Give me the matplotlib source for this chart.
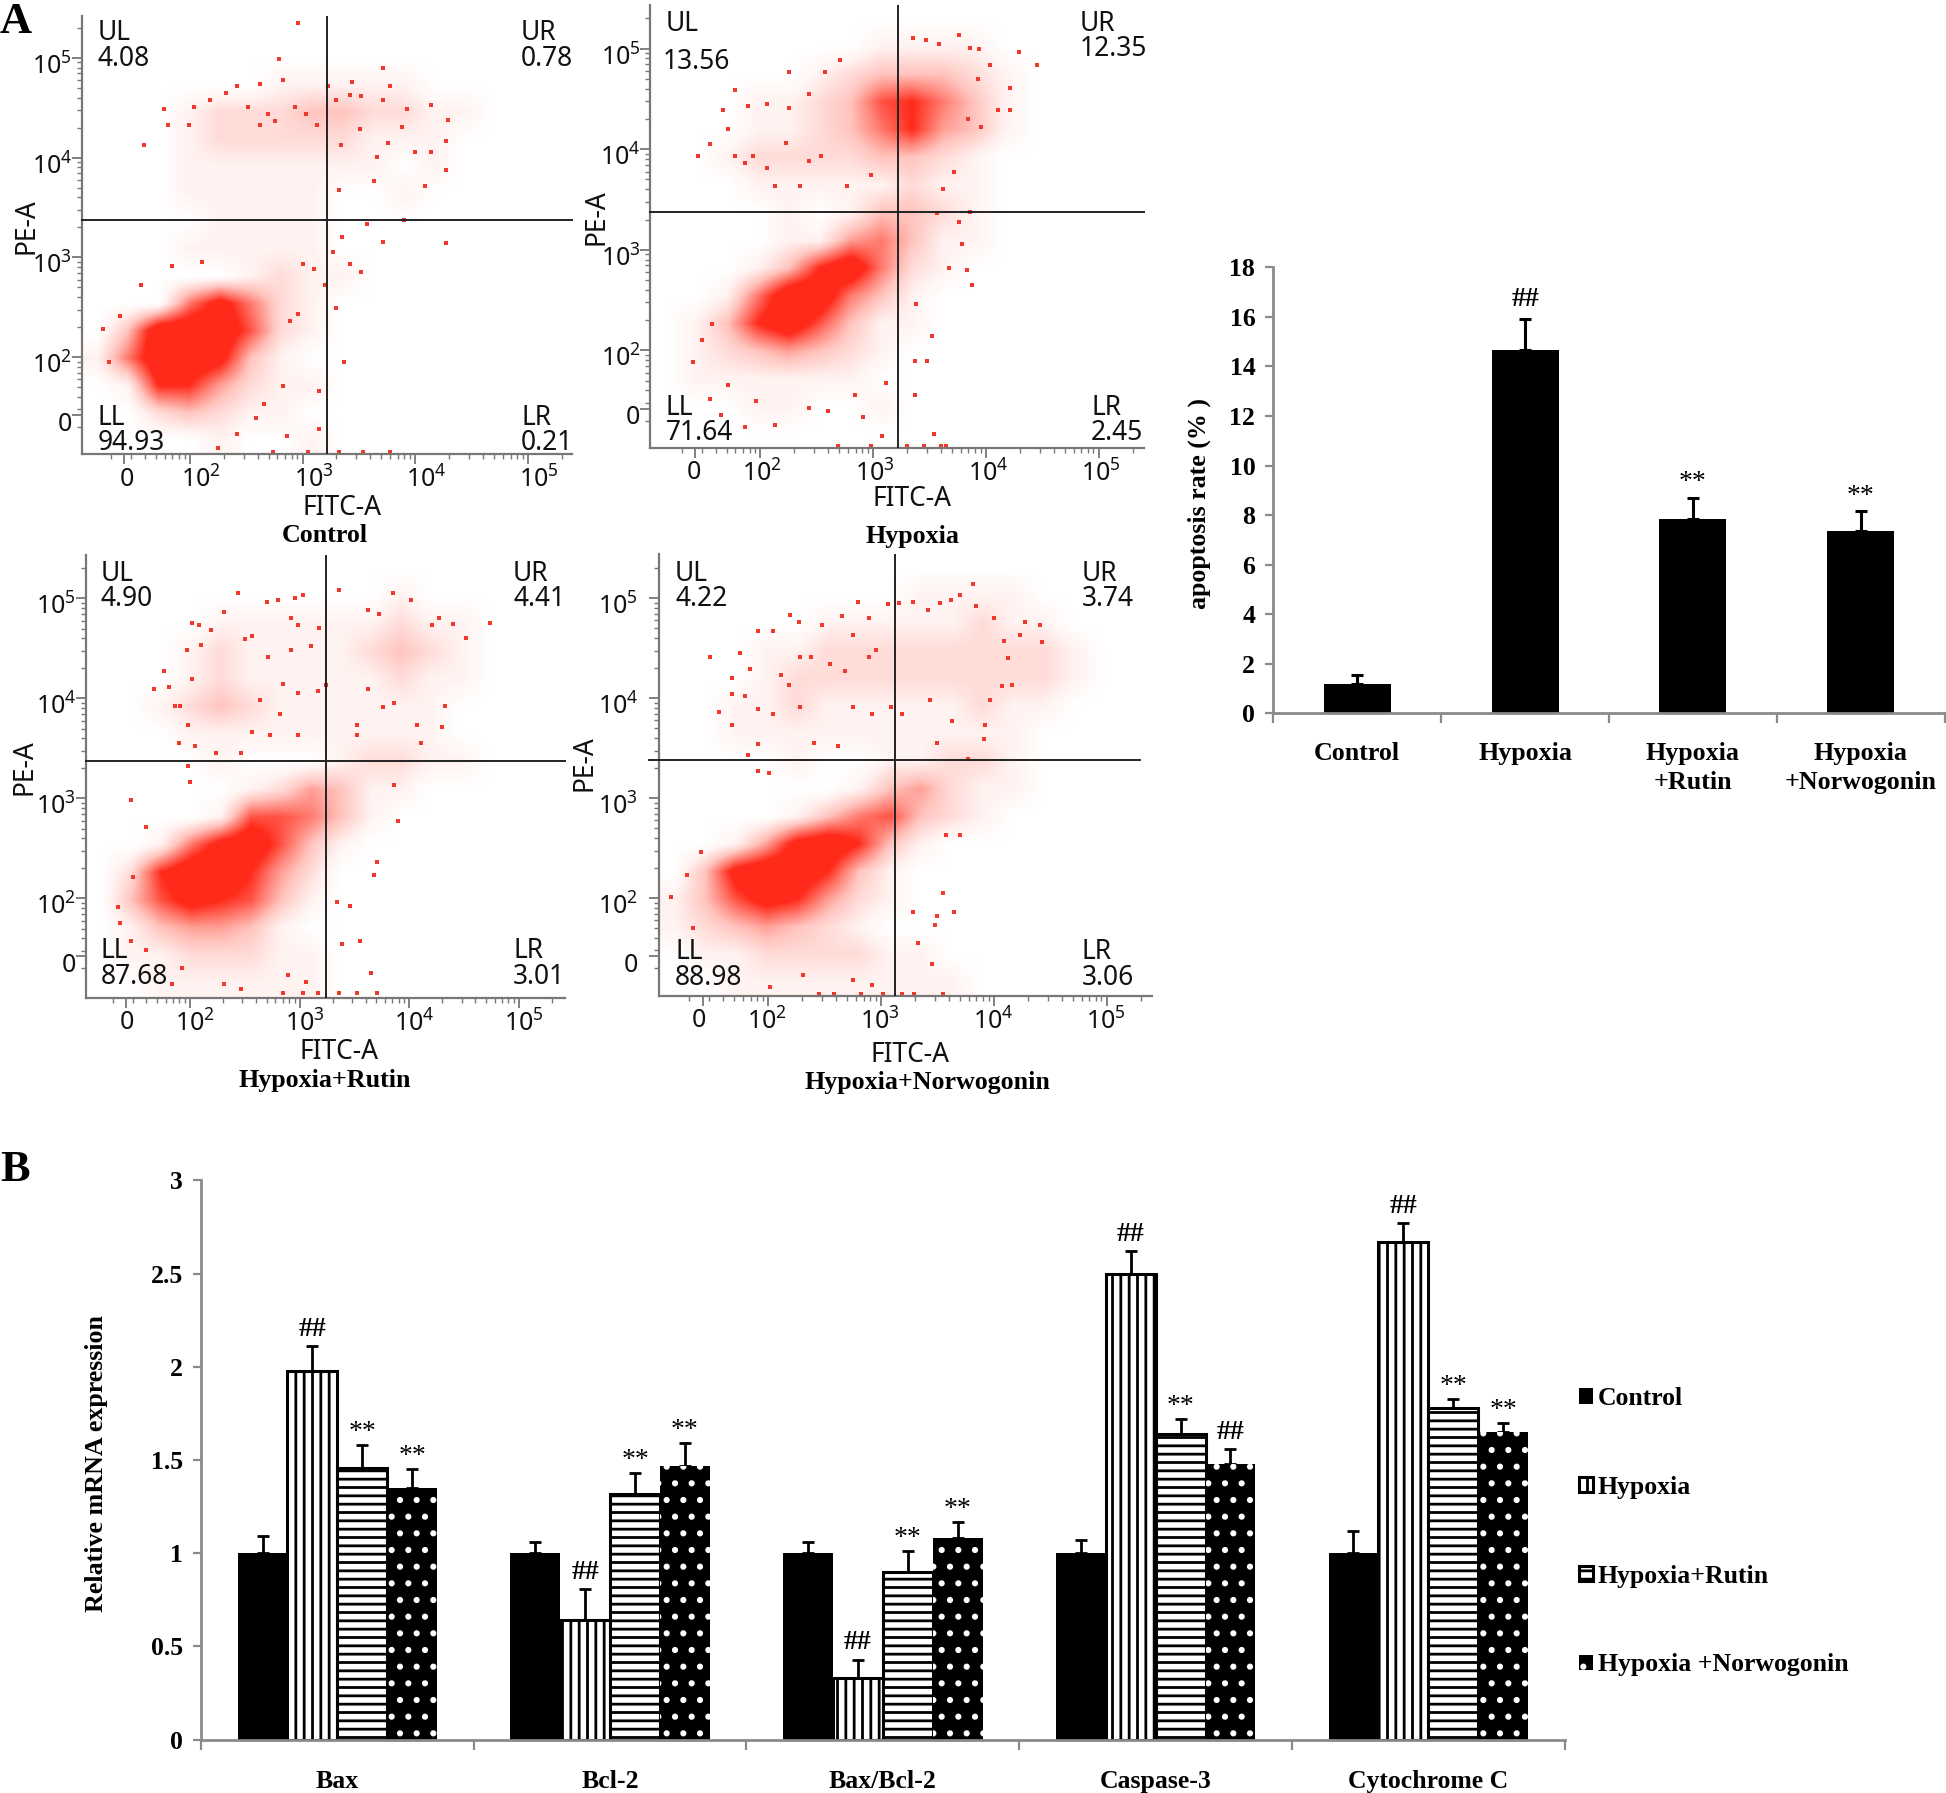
import numpy as np
import matplotlib
matplotlib.use('Agg')
import matplotlib.pyplot as plt
from matplotlib.colors import LinearSegmentedColormap
from matplotlib.patches import Patch
from matplotlib.transforms import ScaledTranslation

W, H = 1946, 1793
plt.rcParams['mathtext.default'] = 'regular'
plt.rcParams['hatch.linewidth'] = 2.0

# flow cytometry: the dense clouds are hand-read as coarse density maps (0-9, top row first),
# the loose events are hand-read one by one, all in decades of FITC-A / PE-A
control_density = [
    "0000000000000000", "0000000000000000", "0000001111100000", "0001222332211000",
    "0001222221110000", "0001111111010000", "0001111100100000", "0000111100000000",
    "0001111100000000", "0000012110000000", "0005852100000000", "0399962100000000",
    "1599831000000000", "0177421100000000", "0023211000000000", "0000100100000000"]
hypoxia_density = [
    "0000000000000000", "0000000111100000", "0000012333210000", "0001123675310000",
    "0001123574310000", "0012222332100000", "0001111121100000", "0000101332100000",
    "0000114531100000", "0001379521000000", "0015995310000000", "0137963110000000",
    "0123432100000000", "0111111000000000", "0001100100000000", "0000000000000000"]
rutin_density = [
    "0000000000000000", "0000000000100000", "0000111111211000", "0001211112321000",
    "0001211111211000", "0012321111110000", "0001111111110000", "0000100012211000",
    "0000012431100000", "0000166531000000", "0015896310000000", "0279974200000000",
    "0368763100000000", "0134431000000000", "0112221100000000", "0011111100000000"]
norwogonin_density = [
    "0000000000000000", "0000000011110000", "0000011111211000", "0001122222222100",
    "0001222222222100", "0011211111211000", "0011111111110000", "0000100112210000",
    "0000001342110000", "0000135632100000", "0014897310000000", "0389973100000000",
    "1368742100000000", "1234321000000000", "0112222110000000", "0011111111000000"]

control_x = [2.96,2.79,3.71,3.44,3.78,2.42,2.62,2.83,3.23,1.77,2.04,1.81,1.99,1.59,2.18,2.32,2.52,2.62,2.69,2.76,
             2.93,3.03,3.13,3.30,3.42,3.52,3.71,3.93,3.88,4.14,4.29,4.00,4.14,4.27,4.27,4.09,3.63,3.32,3.66,3.76,
             3.51,3.34,3.71,4.27,3.57,3.90,3.35,3.27,3.42,3.52,3.30,3.20,3.37,3.15,3.15,2.86,2.74,3.05,3.32,3.54,
             3.78,1.57,1.23,1.38,1.28,3.00,3.10,1.84,2.11,2.89,2.96,2.83,2.59,2.25,2.42,2.66]
control_y = [5.35,4.99,4.90,4.76,4.72,4.72,4.74,4.78,4.72,4.49,4.51,4.33,4.33,4.13,4.58,4.65,4.51,4.33,4.44,4.37,
             4.51,4.44,4.33,4.58,4.63,4.62,4.58,4.49,4.31,4.53,4.38,4.06,4.06,4.17,3.88,3.72,3.77,3.68,4.01,4.15,
             4.29,4.13,3.15,3.14,3.34,3.38,3.20,3.05,2.93,2.85,2.49,2.72,1.95,1.66,1.28,1.21,1.05,1.05,1.05,1.05,
             1.05,2.72,2.28,2.41,1.95,2.93,2.88,2.91,2.95,2.36,2.43,1.71,1.39,1.09,1.23,1.53]

hypoxia_x = [4.45,4.29,3.76,3.35,3.47,3.58,3.86,3.94,4.04,4.21,4.21,4.11,3.93,3.84,3.96,2.25,1.77,1.67,1.89,1.71,
             1.55,1.45,1.77,1.86,1.93,2.06,2.23,2.43,2.54,2.35,2.71,2.57,2.43,2.25,2.06,2.13,2.77,2.98,3.62,3.72,
             3.86,3.76,3.79,3.67,3.83,3.88,3.57,3.38,3.52,3.37,3.48,3.37,3.54,2.69,2.98,3.30,3.45,3.60,3.65,1.40,
             1.48,1.57,1.71,1.55,1.65,1.96,1.86,2.13,2.43,2.60,2.84,3.11,3.08,2.91]
hypoxia_y = [4.84,4.97,5.14,5.11,5.09,5.05,5.01,5.00,4.84,4.61,4.39,4.39,4.70,4.30,4.22,4.77,4.59,4.39,4.43,4.20,
             4.05,3.93,3.93,3.86,3.93,3.81,4.06,3.88,3.93,3.63,4.89,4.77,4.55,4.41,4.45,3.63,3.63,3.74,3.60,3.77,
             3.38,3.28,3.06,2.82,2.80,2.65,3.37,2.46,2.14,1.89,1.89,1.56,1.17,1.05,1.05,1.05,1.05,1.05,1.05,1.88,
             2.10,2.26,1.66,1.52,1.36,1.50,1.24,1.26,1.43,1.40,1.56,1.68,1.15,1.34]

rutin_x = [4.74,4.52,4.40,4.27,4.21,4.02,3.85,3.36,3.03,2.96,2.80,2.70,2.44,2.31,2.02,2.08,2.19,1.97,2.10,1.76,
           2.02,1.67,1.81,1.86,1.91,1.98,1.90,2.05,2.24,2.47,1.98,2.00,1.46,1.60,4.33,4.30,4.11,4.07,3.86,3.90,
           3.71,3.68,3.46,3.34,3.39,3.55,3.65,3.71,3.52,3.36,3.03,2.85,3.17,2.47,2.31,1.84,1.46,1.36,1.34,1.48,
           1.60,1.93,2.89,3.06,3.62,3.72,2.50,2.57,2.92,2.99,3.18,2.71,2.92,3.10,3.24,2.85,2.99,3.17,2.64,2.82,
           2.57,2.73,2.99,3.52,3.76,3.86,3.62,3.52]
rutin_y = [4.75,4.60,4.74,4.80,4.73,4.98,5.05,5.08,5.03,5.00,4.98,4.96,5.05,4.86,4.75,4.73,4.68,4.48,4.53,4.27,
           4.19,4.09,4.11,3.92,3.92,3.73,3.55,3.52,3.45,3.45,3.32,3.16,2.98,2.71,3.92,3.71,3.55,3.73,3.13,2.77,
           2.36,2.23,1.92,1.96,1.54,1.57,1.25,1.05,1.05,1.05,1.05,1.05,1.05,1.09,1.14,1.14,1.57,1.75,1.91,2.21,
           1.48,1.30,1.23,1.16,4.88,4.84,4.59,4.62,4.80,4.73,4.70,4.41,4.48,4.52,4.13,4.14,4.05,4.07,3.98,3.84,
           3.66,3.63,3.63,3.63,3.91,3.95,4.09,3.73]

norwogonin_x = [3.82,3.70,3.62,3.84,3.52,3.42,3.28,3.16,3.06,2.80,4.41,4.28,4.43,4.23,4.09,4.13,4.16,4.07,3.97,3.92,
                3.91,4.00,2.19,2.27,1.91,2.04,1.48,1.75,1.84,1.68,1.68,1.79,1.56,1.68,1.91,2.04,1.91,1.82,1.91,2.01,
                2.41,2.62,2.28,2.38,2.55,2.68,2.89,2.96,2.48,2.65,2.89,2.75,2.28,2.11,2.18,2.75,2.92,3.09,3.19,3.43,
                3.63,3.50,3.77,3.70,3.58,3.65,3.50,3.48,3.28,3.45,3.55,1.14,1.28,1.40,1.33,2.45,2.58,2.82,3.02,3.19,
                3.29,3.55,2.02,2.31,2.75,2.92,3.33]
norwogonin_y = [5.14,5.03,4.98,4.92,4.95,4.88,4.96,4.95,4.94,4.96,4.73,4.76,4.56,4.63,4.57,4.40,4.13,4.12,3.98,3.73,
                3.59,4.80,4.83,4.76,4.67,4.67,4.41,4.45,4.29,4.20,4.04,4.02,3.86,3.73,3.89,3.84,3.54,3.43,3.27,3.25,
                3.55,3.52,4.41,4.41,4.34,4.27,4.41,4.48,4.73,4.82,4.80,4.63,3.91,4.23,4.13,3.91,3.84,3.91,3.84,3.98,
                3.77,3.55,3.39,2.63,2.63,1.86,1.82,1.73,1.86,1.34,2.05,2.01,2.23,2.46,1.70,1.04,1.04,1.04,1.04,1.04,
                1.04,1.04,1.11,1.23,1.18,1.13,1.55]

quadrant_names = ["UL", "UR", "LL", "LR"]
control_pct = ["4.08", "0.78", "94.93", "0.21"]
hypoxia_pct = ["13.56", "12.35", "71.64", "2.45"]
rutin_pct = ["4.90", "4.41", "87.68", "3.01"]
norwogonin_pct = ["4.22", "3.74", "88.98", "3.06"]

flow_ticks = [1.42, 2, 3, 4, 5]
flow_ticklabels = ["0", "$10^2$", "$10^3$", "$10^4$", "$10^5$"]

# apoptosis bars
apo_groups = ["Control", "Hypoxia", "Hypoxia\n+Rutin", "Hypoxia\n+Norwogonin"]
apo_rate = [1.2, 14.65, 7.85, 7.35]
apo_err = [0.35, 1.25, 0.85, 0.8]
apo_marks = ["", "##", "**", "**"]

# mRNA bars
genes = ["Bax", "Bcl-2", "Bax/Bcl-2", "Caspase-3", "Cytochrome C"]
mrna_control = [1, 1, 1, 1, 1]
mrna_hypoxia = [1.98, 0.64, 0.33, 2.50, 2.67]
mrna_rutin = [1.46, 1.32, 0.90, 1.64, 1.78]
mrna_norwogonin = [1.35, 1.47, 1.08, 1.48, 1.65]
err_control = [0.09, 0.06, 0.06, 0.07, 0.12]
err_hypoxia = [0.13, 0.17, 0.10, 0.12, 0.10]
err_rutin = [0.12, 0.11, 0.11, 0.08, 0.05]
err_norwogonin = [0.10, 0.12, 0.09, 0.08, 0.05]
marks_hypoxia = ["##", "##", "##", "##", "##"]
marks_rutin = ["**", "**", "**", "**", "**"]
marks_norwogonin = ["**", "**", "**", "##", "**"]

SERIF = "Liberation Serif"
SANS = "Noto Sans"
GREY = "#8a8a8a"

fig = plt.figure(figsize=(W / 100, H / 100), dpi=100, facecolor="white")
red_map = LinearSegmentedColormap.from_list(
    "flow", [(0, "#ffffff"), (1 / 9, "#fff3f1"), (3 / 9, "#ffc4be"), (5 / 9, "#ff7a6e"), (7 / 9, "#ff2a1a"), (1, "#ff2a1a")])


def px_axes(left, top, right, bottom):
    return fig.add_axes([left / W, 1 - bottom / H, (right - left) / W, (bottom - top) / H])


def px_text(x, y, s, **kw):
    fig.text(x / W, 1 - y / H, s, **kw)


def nudge(label, dx, dy):
    # the cytometer software prints its tick labels off-centre
    label.set_transform(label.get_transform() + ScaledTranslation(dx / 100, dy / 100, fig.dpi_scale_trans))


def flow_panel(box, xlim, ylim, gate, density, xs, ys, pct, name_pos, fitc_pos, pe_pos, title, title_pos,
               label_dx, ylabel_dx, hspan=(0, 1)):
    ax = px_axes(*box)
    grid = np.array([[int(c) for c in row] for row in density]) / 9
    ax.imshow(grid, cmap=red_map, vmin=0, vmax=1, aspect="auto", interpolation="bilinear",
              extent=(xlim[0], xlim[1], ylim[0], ylim[1]), zorder=1)
    ax.scatter(xs, ys, s=5.5, marker="s", color="#f0392c", linewidths=0, zorder=2)
    ax.axvline(gate[0], color="#222222", lw=1.4, zorder=3)
    ax.axhline(gate[1], hspan[0], hspan[1], color="#222222", lw=1.4, zorder=3, clip_on=False)
    ax.set_xlim(xlim)
    ax.set_ylim(ylim)
    for side in ["top", "right"]:
        ax.spines[side].set_visible(False)
    for side in ["left", "bottom"]:
        ax.spines[side].set_color("#777777")
        ax.spines[side].set_linewidth(1.6)
    minor = [d + np.log10(m) for d in [1, 2, 3, 4, 5] for m in range(2, 10)]
    for axis, lim in [(ax.xaxis, xlim), (ax.yaxis, ylim)]:
        axis.set_ticks(flow_ticks)
        axis.set_ticklabels(flow_ticklabels)
        axis.set_ticks([m for m in minor if lim[0] < m < lim[1]], minor=True)
    ax.tick_params(which="major", length=7, width=1.3, color="#777777", labelsize=18, pad=2)
    ax.tick_params(which="minor", length=3.5, width=1.0, color="#777777")
    for lab in ax.get_xticklabels() + ax.get_yticklabels():
        lab.set_family(SANS)
        lab.set_color("#111111")
    for i, lab in enumerate(ax.get_xticklabels()):
        nudge(lab, label_dx[0] if i == 0 else label_dx[1], 0)
    for lab in ax.get_yticklabels():
        nudge(lab, ylabel_dx, -6)
    for name, value, (nx, ny, vx, vy) in zip(quadrant_names, pct, name_pos):
        px_text(nx, ny + 3, name, family=SANS, fontsize=19, va="center", ha="left", color="#111111")
        px_text(vx, vy + 3, value, family=SANS, fontsize=19, va="center", ha="left", color="#111111")
    px_text(fitc_pos[0], fitc_pos[1] + 3, "FITC-A", family=SANS, fontsize=19, ha="center", va="center", color="#111111")
    px_text(pe_pos[0] + 2, pe_pos[1] - 3, "PE-A", family=SANS, fontsize=19, ha="center", va="center",
            rotation=90, color="#111111")
    px_text(title_pos[0], title_pos[1] + 2, title, family=SERIF, fontweight="bold", fontsize=18.7, ha="center", va="center")


flow_panel((81.5, 16, 572, 454), (1.04, 5.39), (1.03, 5.42), (3.22, 3.38), control_density, control_x, control_y,
           control_pct, [(97.6, 30, 97.6, 56.4), (521, 30, 521, 56.4), (97.6, 415, 97.6, 440), (521, 415, 521, 440)],
           (342, 505), (25, 229), "Control", (325, 534), (3, 11), 3)
flow_panel((650, 5.4, 1143.7, 447.9), (1.02, 5.40), (1.03, 5.43), (3.22, 3.38), hypoxia_density, hypoxia_x, hypoxia_y,
           hypoxia_pct, [(666, 21, 663, 59), (1079.4, 21, 1079.4, 46), (666, 405, 666, 430), (1091, 405, 1091, 430)],
           (912, 496), (595, 220), "Hypoxia", (912, 535), (-1, 2), 3)
flow_panel((85.7, 555.4, 565, 997.5), (1.05, 5.42), (1.01, 5.43), (3.24, 3.375), rutin_density, rutin_x, rutin_y,
           rutin_pct, [(100.6, 571, 100.6, 596), (513, 571, 513, 596), (100.6, 948, 100.6, 974), (513, 948, 513, 974)],
           (339, 1049), (23, 770), "Hypoxia+Rutin", (325, 1078), (1, 5), 3)
flow_panel((658.8, 554.3, 1151.7, 995.7), (1.03, 5.40), (1.025, 5.44), (3.12, 3.38), norwogonin_density, norwogonin_x, norwogonin_y,
           norwogonin_pct, [(675, 571, 675, 596), (1082, 571, 1082, 596), (675, 949, 675, 975), (1082, 949, 1082, 975)],
           (910, 1052), (583, 766), "Hypoxia+Norwogonin", (927, 1080), (-4, -1), -8, hspan=(-0.02, 0.976))


def style_bar_axes(ax):
    for side in ["top", "right"]:
        ax.spines[side].set_visible(False)
    for side in ["left", "bottom"]:
        ax.spines[side].set_color(GREY)
        ax.spines[side].set_linewidth(2)
    ax.tick_params(axis="y", length=6, width=1.6, color=GREY, pad=7)
    ax.tick_params(axis="x", which="major", length=7, width=1.6, color=GREY, labelbottom=False)
    ax.tick_params(axis="x", which="minor", length=0)


# apoptosis rate
ax1 = px_axes(1273.4, 267.3, 1944.5, 713.3)
x1 = np.arange(4) + 0.5
ax1.bar(x1, apo_rate, 0.40, color="black", zorder=2)
ax1.errorbar(x1, apo_rate, yerr=[np.zeros(4), apo_err], fmt="none", ecolor="black", elinewidth=2.2,
             capsize=4.5, capthick=2.2, zorder=1)
ax1.set_xlim(0, 4)
ax1.set_ylim(0, 18)
ax1.set_yticks(range(0, 19, 2))
ax1.set_yticklabels([str(v) for v in range(0, 19, 2)], family=SERIF, fontweight="bold", fontsize=18.5)
ax1.set_xticks(range(5))
ax1.set_xticks(x1, minor=True)
style_bar_axes(ax1)
ax1.set_xticklabels(apo_groups, minor=True, family=SERIF, fontweight="bold", fontsize=18.7, linespacing=1.3)
ax1.tick_params(axis="x", which="minor", labelbottom=True, pad=21)
for xp, top, err, mark in zip(x1, apo_rate, apo_err, apo_marks):
    off = 5 if mark == "##" else 2
    ax1.annotate(mark, (xp, top + err), xytext=(0, off), textcoords="offset points", ha="center", va="bottom",
                 family=SERIF, fontsize=20, fontweight="bold" if mark == "##" else "normal")
px_text(1199, 503.6, "apoptosis rate (% )", family=SERIF, fontweight="bold", fontsize=18.7, rotation=90,
        ha="center", va="center")

# relative mRNA expression
ax2 = px_axes(201, 1180.4, 1564.7, 1739.7)
x2 = np.arange(5) + 0.5
bw = 0.183
styles = [dict(facecolor="black", edgecolor="black", linewidth=0),
          dict(facecolor="white", edgecolor="black", linewidth=2.2, hatch="||"),
          dict(facecolor="white", edgecolor="black", linewidth=2.2, hatch="--"),
          dict(facecolor="black", edgecolor="white", linewidth=0, hatch=".")]
series = [mrna_control, mrna_hypoxia, mrna_rutin, mrna_norwogonin]
errs = [err_control, err_hypoxia, err_rutin, err_norwogonin]
marks = [[""] * 5, marks_hypoxia, marks_rutin, marks_norwogonin]
for i, (vals, er, mk, st) in enumerate(zip(series, errs, marks, styles)):
    xb = x2 + (i - 1.5) * bw
    ax2.bar(xb, vals, bw, zorder=2, **st)
    ax2.errorbar(xb, vals, yerr=[np.zeros(5), er], fmt="none", ecolor="black", elinewidth=2,
                 capsize=4, capthick=2, zorder=1)
    for xp, v, e, m in zip(xb, vals, er, mk):
        off = 3 if m == "##" else 0
        ax2.annotate(m, (xp, v + e), xytext=(0, off), textcoords="offset points", ha="center", va="bottom",
                     family=SERIF, fontsize=20, fontweight="bold" if m == "##" else "normal")
ax2.set_xlim(0, 5)
ax2.set_ylim(0, 3)
ax2.set_yticks([0, 0.5, 1, 1.5, 2, 2.5, 3])
ax2.set_yticklabels(["0", "0.5", "1", "1.5", "2", "2.5", "3"], family=SERIF, fontweight="bold", fontsize=18.5)
ax2.set_xticks(range(6))
ax2.set_xticks(x2, minor=True)
style_bar_axes(ax2)
ax2.set_xticklabels(genes, minor=True, family=SERIF, fontweight="bold", fontsize=18.5)
ax2.tick_params(axis="x", which="minor", labelbottom=True, pad=22)
px_text(97, 1463, "Relative mRNA expression", family=SERIF, fontweight="bold", fontsize=18.7, rotation=90,
        ha="center", va="center")

handles = [Patch(**st) for st in styles]
fig.legend(handles, ["Control", "Hypoxia", "Hypoxia+Rutin", "Hypoxia +Norwogonin"], loc="upper left",
           bbox_to_anchor=(1579 / W, 1 - 1387 / H), frameon=False, handlelength=0.55, handleheight=0.55,
           handletextpad=0.18, labelspacing=2.56, borderpad=0, borderaxespad=0,
           prop={"family": SERIF, "weight": "bold", "size": 18.5})

px_text(0, 22, "A", family=SERIF, fontweight="bold", fontsize=32, ha="left", va="center")
px_text(0, 1170, "B", family=SERIF, fontweight="bold", fontsize=32, ha="left", va="center")

fig.savefig("out.png", dpi=100, facecolor="white")
